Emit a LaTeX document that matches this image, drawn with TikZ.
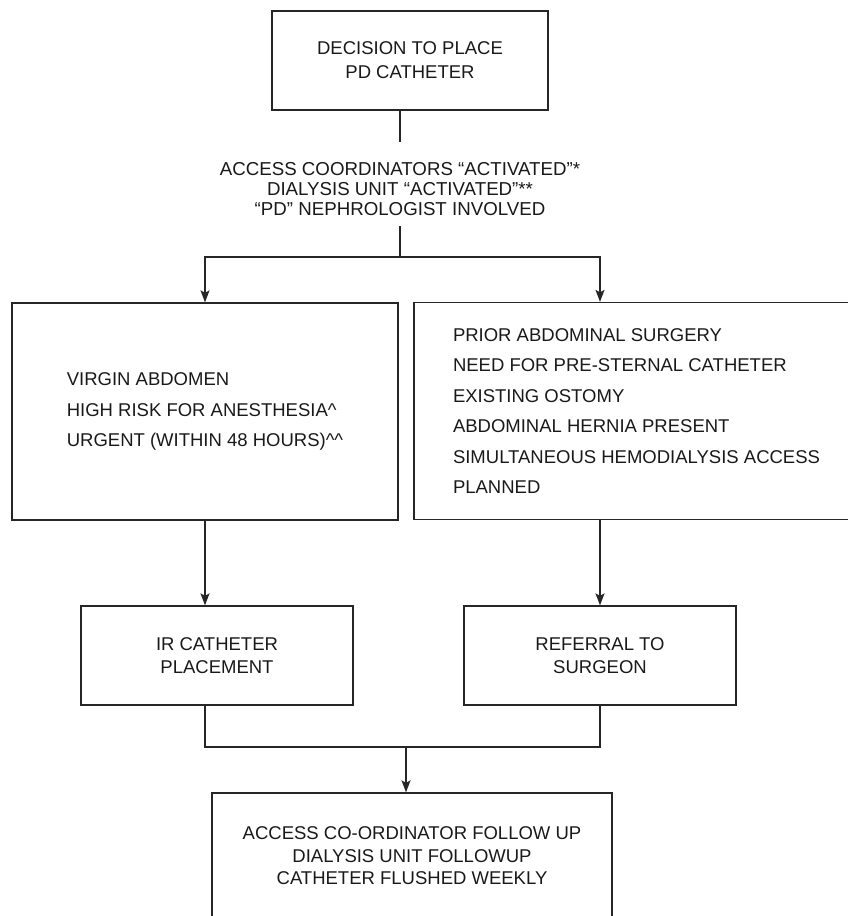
\documentclass[tikz,border=0pt]{standalone}
\usepackage{fontspec}
\setmainfont{Liberation Sans}
\usetikzlibrary{arrows.meta}

\begin{document}
\begin{tikzpicture}[
    x=1pt, y=-1pt,
    box/.style={draw=black!85, line width=1.3pt, inner sep=0pt, align=center, text=black!90, font=\fontsize{18.5}{23}\selectfont},
    listbox/.style={box, align=left, minimum height=217pt, font=\fontsize{18.5}{30.5}\selectfont},
    link/.style={draw=black!85, line width=1.3pt},
    arr/.style={link, -{Stealth[length=12pt, width=9pt, inset=2.5pt]}},
  ]
    \useasboundingbox (0,0) rectangle (847,916);

    \node[box, minimum width=276pt, minimum height=99pt, font=\fontsize{18.5}{24}\selectfont] (decision) at (410,60.5)
      {DECISION TO PLACE\\PD CATHETER};

    \node[align=center, inner xsep=0pt, inner ysep=9.5pt, text=black!90, font=\fontsize{18.7}{20}\selectfont] (activ) at (400,189.5)
      {ACCESS COORDINATORS “ACTIVATED”*\\
       DIALYSIS UNIT “ACTIVATED”**\\
       “PD” NEPHROLOGIST INVOLVED};

    \node[listbox, minimum width=386pt] (easy) at (205,411.5)
      {VIRGIN ABDOMEN\\
       HIGH RISK FOR ANESTHESIA\textasciicircum\\
       URGENT (WITHIN 48 HOURS)\textasciicircum\textasciicircum};

    \node[listbox, minimum width=445pt] (hard) at (636.5,411)
      {PRIOR ABDOMINAL SURGERY\\
       NEED FOR PRE-STERNAL CATHETER\\
       EXISTING OSTOMY\\
       ABDOMINAL HERNIA PRESENT\\
       SIMULTANEOUS HEMODIALYSIS ACCESS\\
       PLANNED};

    \node[box, minimum width=272pt, minimum height=99pt] (ir) at (217,655.5) {IR CATHETER\\PLACEMENT};
    \node[box, minimum width=272pt, minimum height=99pt] (referral) at (600,655.5) {REFERRAL TO\\SURGEON};

    \node[box, minimum width=400pt, minimum height=126pt, font=\fontsize{18.5}{22.5}\selectfont] (follow) at (412,856)
      {ACCESS CO-ORDINATOR FOLLOW UP\\
       DIALYSIS UNIT FOLLOWUP\\
       CATHETER FLUSHED WEEKLY};

    \coordinate (split) at (400,257);
    \coordinate (merge) at (406,747);

    \draw[link] (decision.south -| activ) -- ([yshift=11.5pt]activ.north);
    \draw[link] (activ.south) -- (split);
    \draw[arr] (split) -| (easy.north);
    \draw[arr] (split) -| (referral |- hard.north);

    \draw[arr] (easy.south) -- (easy.south |- ir.north);
    \draw[arr] (referral |- hard.south) -- (referral.north);

    % both routes join before the follow-up box
    \draw[link] (easy.south |- ir.south) |- (merge) -| (referral.south);
    \draw[arr] (merge) -- (merge |- follow.north);
\end{tikzpicture}
\end{document}
